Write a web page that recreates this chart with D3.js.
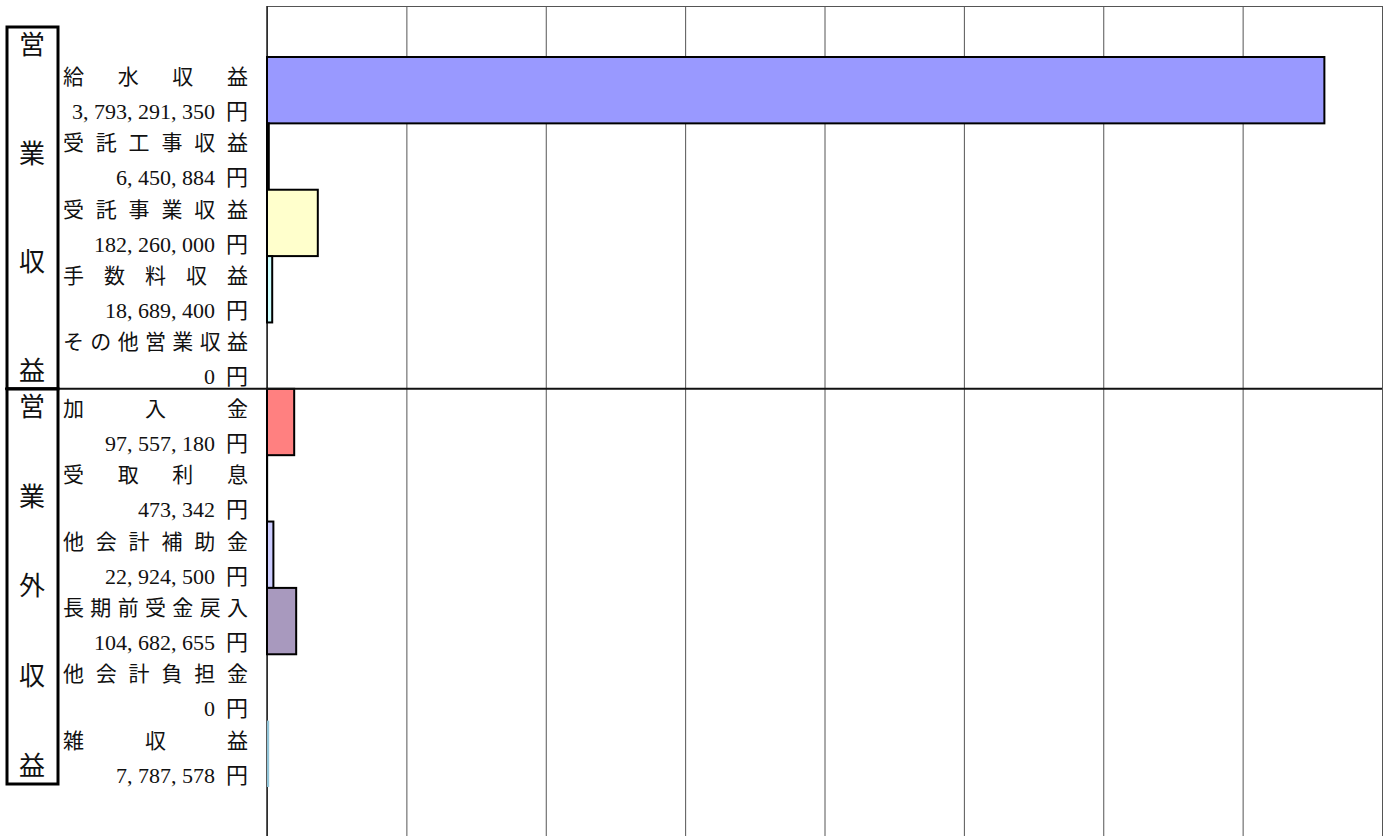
<!DOCTYPE html>
<html>
<head>
<meta charset="utf-8">
<script src="https://cdn.jsdelivr.net/npm/d3@7"></script>
<style>
  body { margin: 0; background: #fff; }
  svg { display: block; }
  .name, .val { font-family: "Liberation Serif", "Noto Sans CJK JP", serif; font-size: 21px; fill: #111; }
  .val { font-size: 22px; }
  .grp { font-family: "Noto Sans CJK JP", serif; font-size: 26px; fill: #111; }
</style>
</head>
<body>
<div id="chart"></div>
<script>
// 収益の内訳 (円)
var categories = ["給水収益", "受託工事収益", "受託事業収益", "手数料収益", "その他営業収益",
                  "加入金", "受取利息", "他会計補助金", "長期前受金戻入", "他会計負担金", "雑収益"];
var values = [3793291350, 6450884, 182260000, 18689400, 0,
              97557180, 473342, 22924500, 104682655, 0, 7787578];
var groupNames = ["営業収益", "営業外収益"];
var groupSizes = [5, 6];
var tickValues = [0, 500000000, 1000000000, 1500000000, 2000000000, 2500000000, 3000000000, 3500000000, 4000000000];

var barColors = ["#9999FF", "#FFFFFF", "#FFFFCC", "#CCFFFF", "#FFFFFF",
                 "#FF8080", "#FFFFFF", "#CCCCFF", "#A899BE", "#FFFFFF", "#92C5D8"];

var width = 1391, height = 836;
var plot = {top: 6, left: 267, right: 1382, bottom: 836};

var svg = d3.select("#chart").append("svg")
  .attr("width", width)
  .attr("height", height);

var xScale = d3.scaleLinear()
  .domain([0, 4000000000])
  .range([plot.left, plot.right]);

var yScale = d3.scaleBand()
  .domain(categories)
  .range([57, 787])
  .padding(0);

// gridlines
var xAxis = d3.axisTop(xScale)
  .tickValues(tickValues)
  .tickSize(-(plot.bottom - plot.top))
  .tickFormat("");

var grid = svg.append("g")
  .attr("class", "x axis")
  .attr("transform", "translate(0," + plot.top + ")")
  .call(xAxis);
grid.select(".domain").remove();
grid.selectAll("line").attr("stroke", "#555").attr("stroke-width", 1);

svg.append("line")
  .attr("x1", plot.left).attr("x2", plot.right)
  .attr("y1", plot.top + 0.5).attr("y2", plot.top + 0.5)
  .attr("stroke", "#555");

// axis line
svg.append("line")
  .attr("x1", xScale(0)).attr("x2", xScale(0))
  .attr("y1", plot.top).attr("y2", plot.bottom)
  .attr("stroke", "#222").attr("stroke-width", 1.5);

// bars
svg.selectAll(".bar")
  .data(categories)
  .enter().append("rect")
    .attr("class", "bar")
    .attr("x", xScale(0))
    .attr("y", function(d) { return yScale(d); })
    .attr("height", yScale.bandwidth())
    .attr("width", function(d, i) { return xScale(values[i]) - xScale(0); })
    .style("fill", function(d, i) { return barColors[i]; })
    .style("stroke", function(d, i) { return i === 10 ? "none" : "#000"; })
    .style("stroke-width", 2)
    .style("display", function(d, i) { return values[i] > 0 ? null : "none"; });

// divider between the two groups
var divY = yScale(categories[groupSizes[0]]);
svg.append("line")
  .attr("x1", 5).attr("x2", plot.right)
  .attr("y1", divY).attr("y2", divY)
  .attr("stroke", "#111").attr("stroke-width", 2);

// category labels, distributed across the label column
var nameLeft = 63, nameRight = 248, fs = 21;
var fmt = d3.format(",");

categories.forEach(function(name, i) {
  var top = yScale(name);
  var chars = name.split("");
  var n = chars.length;
  svg.selectAll(null)
    .data(chars)
    .enter().append("text")
      .attr("class", "name")
      .attr("x", function(c, j) { return nameLeft + j * (nameRight - nameLeft - fs) / (n - 1); })
      .attr("y", top + 27)
      .text(function(c) { return c; });

  svg.append("text")
    .attr("class", "val")
    .attr("x", nameRight)
    .attr("y", top + 62)
    .attr("text-anchor", "end")
    .text(fmt(values[i]).replace(/,/g, ", ") + "\u2002円");
});

// group boxes with vertical labels
var boxes = [
  {top: 27, bottom: divY},
  {top: divY, bottom: 784}
];

boxes.forEach(function(b, g) {
  svg.append("rect")
    .attr("x", 7).attr("y", b.top)
    .attr("width", 51).attr("height", b.bottom - b.top)
    .attr("fill", "none")
    .attr("stroke", "#000")
    .attr("stroke-width", 3);

  var chars = groupNames[g].split("");
  var first = b.top + 17, last = b.bottom - 19;
  svg.selectAll(null)
    .data(chars)
    .enter().append("text")
      .attr("class", "grp")
      .attr("x", 32)
      .attr("y", function(c, j) { return first + j * (last - first) / (chars.length - 1) + 10; })
      .attr("text-anchor", "middle")
      .text(function(c) { return c; });
});
</script>
</body>
</html>
